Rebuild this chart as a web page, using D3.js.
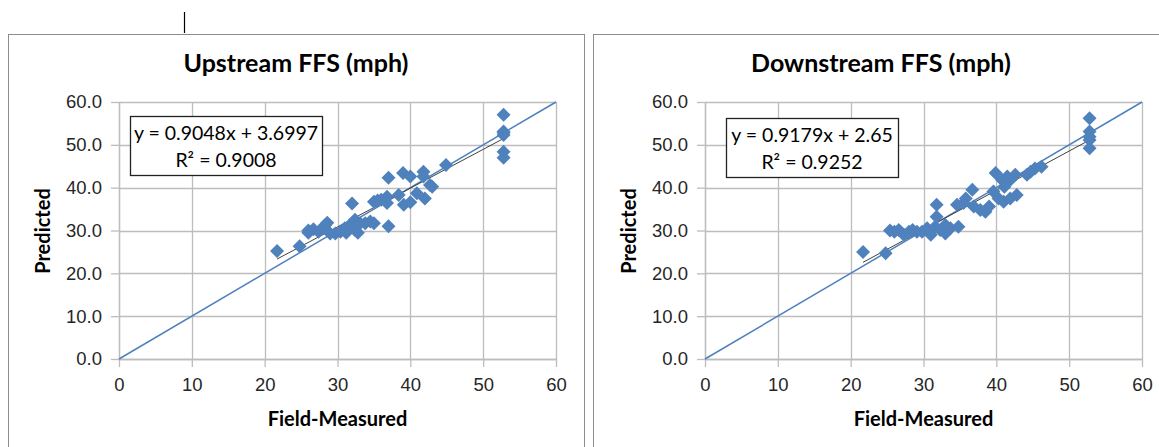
<!DOCTYPE html>
<html>
<head>
<meta charset="utf-8">
<script src="https://cdn.jsdelivr.net/npm/d3@7"></script>
<style>
  body { margin: 0; background: #fff; }
  svg { display: block; font-family: Lato, "Open Sans", sans-serif; }
</style>
</head>
<body>
<div id="chart"></div>
<script>
// Data (field-measured vs predicted FFS)
const upMeasured = [21.7, 24.8, 26, 26, 26.7, 27.4, 28, 28.3, 28.6, 29, 29.7, 30.4, 31, 31.2, 31.7, 32, 32.4, 32.4, 32.8, 33.1, 33.8, 34.5, 35, 35, 35.5, 36, 36.8, 36.8, 37, 37, 38.4, 39, 39.1, 40, 40, 40.9, 41.8, 41.8, 42, 42.7, 43, 44.9, 52.8, 52.8, 52.8, 52.8, 52.8, 52.8];
const upPredicted = [25.2, 26.3, 30.0, 29.5, 30.3, 29.7, 30.5, 31.3, 31.8, 29.3, 29.3, 29.7, 30.5, 29.5, 31.3, 36.3, 32.5, 30.1, 29.5, 31.7, 31.7, 32.1, 31.7, 36.7, 37.0, 37.2, 36.4, 37.9, 42.3, 31.0, 38.3, 43.4, 36.0, 42.6, 36.6, 38.7, 43.7, 42.6, 37.5, 40.6, 40.2, 45.3, 57.0, 53.1, 52.3, 52.8, 48.4, 47.0];

const downMeasured = [21.7, 24.8, 25.4, 26, 26.6, 27.3, 28, 28.5, 29.1, 29.8, 30.5, 31, 31.6, 31.8, 31.8, 32.3, 33, 33, 33.7, 34.8, 34.6, 35.5, 36.7, 36.9, 35.8, 37.8, 38.5, 39, 39.6, 39.9, 40.3, 40.8, 41, 41.5, 41.9, 41.9, 42.6, 42.8, 41.1, 44.2, 44.7, 45.3, 46.2, 52.8, 52.8, 52.8, 52.8, 52.8];
const downPredicted = [25.0, 24.7, 30.0, 29.7, 30.1, 29.0, 29.7, 30.1, 29.7, 29.7, 30.5, 29.0, 30.9, 36.0, 33.2, 30.1, 31.3, 29.3, 30.5, 30.9, 36.0, 36.4, 39.5, 35.6, 37.5, 34.8, 34.4, 35.6, 39.1, 43.4, 37.5, 41.8, 36.7, 42.6, 41.8, 37.5, 43.0, 38.3, 40.2, 43.0, 43.7, 44.5, 44.9, 56.2, 53.1, 51.9, 51.1, 49.2];

const xTicks = [0, 10, 20, 30, 40, 50, 60];
const yTicks = [0, 10, 20, 30, 40, 50, 60];
const titles = ["Upstream FFS (mph)", "Downstream FFS (mph)"];
const equations = ["y = 0.9048x + 3.6997", "y = 0.9179x + 2.65"];
const rSquared = ["R² = 0.9008", "R² = 0.9252"];
const slopes = [0.9048, 0.9179];
const intercepts = [3.6997, 2.65];

const svg = d3.select("#chart")
              .append("svg")
              .attr("width", 1159)
              .attr("height", 447);

// little cursor mark left in the screenshot
svg.append("line")
   .attr("x1", 184.5).attr("x2", 184.5)
   .attr("y1", 12).attr("y2", 33)
   .attr("stroke", "#000").attr("stroke-width", 1.2);

const blue = "#4f81bd";
const grid = "#bdbdbd";

function drawPanel(i, left, plotLeft, boxX, boxW, boxY, xs, ys) {
    const panel = svg.append("g");

    // chart area border
    panel.append("rect")
         .attr("x", left + 0.5).attr("y", 34.5)
         .attr("width", 576).attr("height", 430)
         .attr("fill", "#fff").attr("stroke", "#8c8c8c");

    const x = d3.scaleLinear().domain([0, 60]).range([plotLeft, plotLeft + 437]);
    const y = d3.scaleLinear().domain([0, 60]).range([359, 102]);

    // gridlines
    panel.append("g").selectAll("line")
         .data(yTicks).enter().append("line")
         .attr("x1", x(0)).attr("x2", x(60))
         .attr("y1", d => Math.round(y(d)) + 0.5).attr("y2", d => Math.round(y(d)) + 0.5)
         .attr("stroke", grid).attr("stroke-width", 1.3);
    panel.append("g").selectAll("line")
         .data(xTicks).enter().append("line")
         .attr("x1", d => Math.round(x(d)) + 0.5).attr("x2", d => Math.round(x(d)) + 0.5)
         .attr("y1", y(60)).attr("y2", y(0))
         .attr("stroke", grid).attr("stroke-width", 1.3);

    // axes
    const yAxis = panel.append("g")
       .attr("transform", `translate(${x(0)},0)`)
       .call(d3.axisLeft(y).tickValues(yTicks).tickFormat(d3.format(".1f"))
              .tickSizeInner(8).tickSizeOuter(0).tickPadding(9));
    const xAxis = panel.append("g")
       .attr("transform", `translate(0,${y(0)})`)
       .call(d3.axisBottom(x).tickValues(xTicks)
              .tickSizeInner(8).tickSizeOuter(0).tickPadding(11));
    [xAxis, yAxis].forEach(a => {
        a.selectAll("path, line").attr("stroke", grid).attr("stroke-width", 1.3);
        a.selectAll("text").style("font-size", "18.5px").attr("fill", "#262626");
    });

    // 1:1 line
    panel.append("line")
         .attr("x1", x(0)).attr("y1", y(0))
         .attr("x2", x(60)).attr("y2", y(60))
         .attr("stroke", blue).attr("stroke-width", 1.5);

    // linear trend line
    const ext = d3.extent(xs);
    panel.append("line")
         .attr("x1", x(ext[0])).attr("y1", y(slopes[i] * ext[0] + intercepts[i]))
         .attr("x2", x(ext[1])).attr("y2", y(slopes[i] * ext[1] + intercepts[i]))
         .attr("stroke", "#404040").attr("stroke-width", 1);

    // diamond markers
    const s = 7;
    panel.append("g").selectAll("path")
         .data(xs.map((d, k) => [d, ys[k]]))
         .enter().append("path")
         .attr("d", `M0,${-s}L${s},0L0,${s}L${-s},0Z`)
         .attr("transform", d => `translate(${x(d[0])},${y(d[1])})`)
         .attr("fill", blue);

    // titles
    panel.append("text")
         .attr("x", left + 288).attr("y", 72)
         .attr("text-anchor", "middle")
         .style("font-size", "25px").style("font-weight", "bold")
         .text(titles[i]);
    panel.append("text")
         .attr("x", x(30)).attr("y", 426)
         .attr("text-anchor", "middle")
         .style("font-size", "20px").style("font-weight", "bold")
         .text("Field-Measured");
    panel.append("text")
         .attr("transform", `translate(${x(0) - 69},${231}) rotate(-90)`)
         .attr("text-anchor", "middle")
         .style("font-size", "20px").style("font-weight", "bold")
         .text("Predicted");

    // equation box
    panel.append("rect")
         .attr("x", boxX + 0.5).attr("y", boxY + 0.5)
         .attr("width", boxW).attr("height", 59)
         .attr("fill", "#fff").attr("stroke", "#222").attr("stroke-width", 1.3);
    panel.append("text")
         .attr("x", boxX + boxW / 2).attr("y", boxY + 24)
         .attr("text-anchor", "middle").style("font-size", "19.5px")
         .text(equations[i]);
    panel.append("text")
         .attr("x", boxX + boxW / 2).attr("y", boxY + 51)
         .attr("text-anchor", "middle").style("font-size", "19.5px")
         .text(rSquared[i]);
}

drawPanel(0, 8, 119, 130, 192, 116, upMeasured, upPredicted);
drawPanel(1, 593, 705, 726, 172, 118, downMeasured, downPredicted);
</script>
</body>
</html>
